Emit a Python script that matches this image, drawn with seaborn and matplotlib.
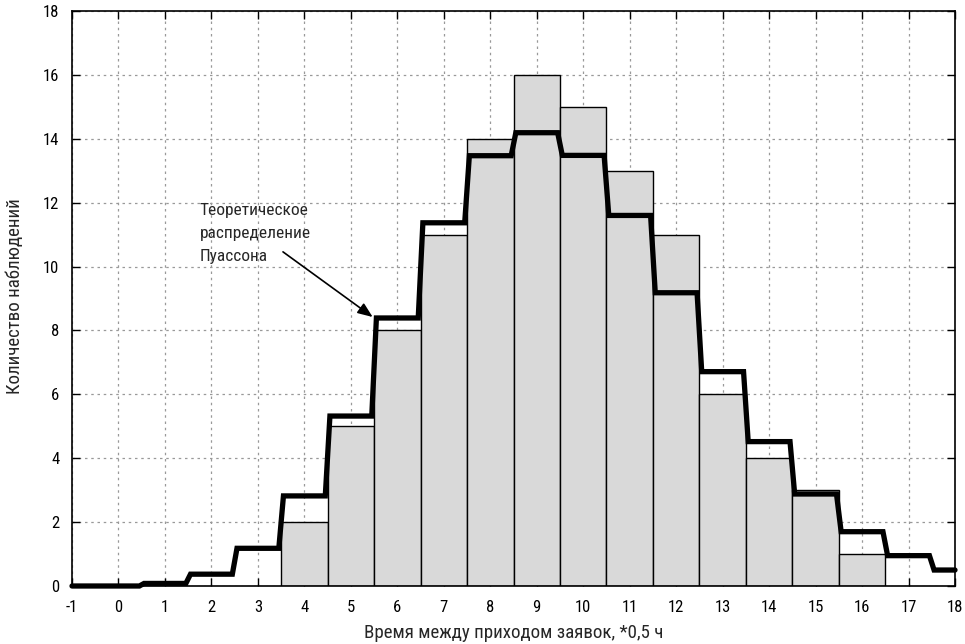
import numpy as np
import pandas as pd
import matplotlib
matplotlib.use("Agg")
import matplotlib.pyplot as plt
import seaborn as sns

# Observed histogram
obs_x = [4, 5, 6, 7, 8, 9, 10, 11, 12, 13, 14, 15, 16]
obs_n = [2, 5, 8, 11, 14, 16, 15, 13, 11, 6, 4, 3, 1]

# Theoretical Poisson distribution (step line)
th_x = [-1, 0, 1, 2, 3, 4, 5, 6, 7, 8, 9, 10, 11, 12, 13, 14, 15, 16, 17, 18]
th_n = [0.0, 0.0, 0.08, 0.37, 1.18, 2.82, 5.32, 8.39, 11.37, 13.47, 14.19,
        13.48, 11.6, 9.18, 6.71, 4.52, 2.88, 1.7, 0.95, 0.5]

xticks = list(range(-1, 19))
yticks = list(range(0, 19, 2))

sns.set_theme(style="white")
plt.rcParams['font.family'] = ['Roboto Condensed', 'PT Sans Narrow', 'DejaVu Sans']

fig = plt.figure(figsize=(9.65, 6.44), dpi=100)
ax = fig.add_axes([72/965, 1-586/644, (955-72)/965, (586-11)/644])

obs_df = pd.DataFrame({"x": obs_x, "n": obs_n})
sns.histplot(data=obs_df, x="x", weights="n", discrete=True, ax=ax,
             color="#d9d9d9", edgecolor="black", linewidth=1.0, alpha=1.0, zorder=2)

# step line points
half = 0.45
px, py = [], []
for i, (x, v) in enumerate(zip(th_x, th_n)):
    left = x if i == 0 else x - half
    right = x if i == len(th_x) - 1 else x + half
    px += [left, right]
    py += [v, v]
line_df = pd.DataFrame({"x": px, "y": py})
sns.lineplot(data=line_df, x="x", y="y", sort=False, ax=ax, color="black",
             linewidth=3.8, zorder=4, estimator=None)
ax.lines[-1].set_solid_joinstyle("miter")
ax.lines[-1].set_clip_on(False)

ax.set_xlim(-1, 18)
ax.set_ylim(0, 18)
ax.set_xticks(xticks)
ax.set_yticks(yticks)
ax.set_xticklabels([str(t) for t in xticks])
ax.grid(True, color="#999999", linestyle=(0, (2, 3)), linewidth=0.9)
ax.set_axisbelow(True)
for s in ax.spines.values():
    s.set_color("black")
    s.set_linewidth(1.2)
ax.tick_params(direction="in", length=6, width=1, labelsize=12, colors="black",
               top=True, right=True, bottom=True, left=True)
ax.tick_params(axis="x", pad=10)
ax.tick_params(axis="y", pad=9)
ax.set_xlabel("Время между приходом заявок, *0,5 ч", fontsize=13.6)
ax.set_ylabel("Количество наблюдений", fontsize=13.6)
ax.xaxis.set_label_coords(0.5, -0.066)
ax.yaxis.set_label_coords(-0.054, 0.505)

ax.text(1.75, 11.98, "Теоретическое\nраспределение\nПуассона",
        ha="left", va="top", fontsize=12.5, linespacing=1.65, zorder=5)
ax.annotate("", xy=(5.47, 8.42), xytext=(3.54, 10.46),
            arrowprops=dict(arrowstyle="-|>,head_length=0.5,head_width=0.2",
                            color="black", lw=1.2,
                            mutation_scale=18, shrinkA=0, shrinkB=0),
            zorder=5)

fig.savefig("out.png", dpi=100)
